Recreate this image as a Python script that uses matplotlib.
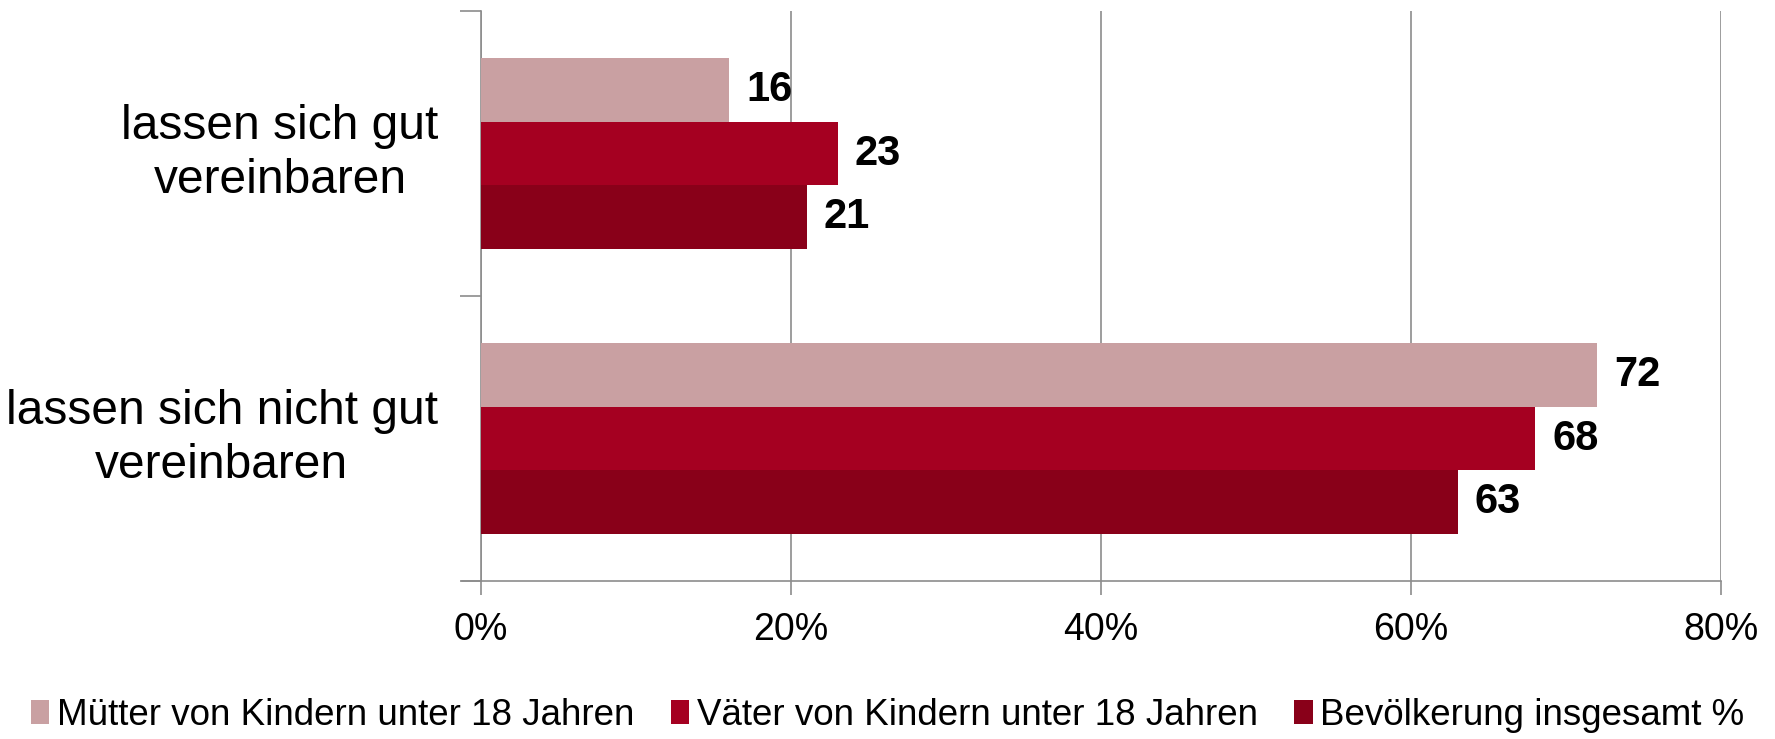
import numpy as np
import matplotlib.pyplot as plt
import matplotlib.transforms as mtransforms
from matplotlib.patches import Patch

plt.rcParams['font.family'] = ['Liberation Sans', 'DejaVu Sans']

categories = ["lassen sich gut\nvereinbaren", "lassen sich nicht gut\nvereinbaren"]
series = ["Mütter von Kindern unter 18 Jahren",
          "Väter von Kindern unter 18 Jahren",
          "Bevölkerung insgesamt %"]
muetter = [16, 72]
vaeter = [23, 68]
bevoelkerung = [21, 63]
colors = ['#C9A0A2', '#A50021', '#890019']

fig = plt.figure(figsize=(17.75, 7.39), dpi=100)
ax = fig.add_axes([0.271, 0.2138, 0.6986, 0.7713])

y = np.arange(len(categories))
h = 0.224
for i, (vals, c) in enumerate(zip([muetter, vaeter, bevoelkerung], colors)):
    pos = y - h + i * h
    ax.barh(pos, vals, height=h, color=c, zorder=3)
    for p, v in zip(pos, vals):
        ax.text(v + 1.1, p, str(v), va='center', ha='left', fontsize=30,
                fontweight='bold', zorder=4)

ax.set_xlim(0, 80)
ax.set_ylim(1.5, -0.5)
ax.set_xticks([0, 20, 40, 60, 80])
ax.set_xticklabels(['0%', '20%', '40%', '60%', '80%'], fontsize=27)
ax.xaxis.grid(True, color='#8c8c8c', linewidth=1.2, zorder=0)

ax.set_yticks([-0.5, 0.5, 1.5])
ax.set_yticklabels([])
ax.tick_params(axis='y', which='major', length=15, color='#8c8c8c', width=1.2)
ax.tick_params(axis='x', length=10, color='#8c8c8c', width=1.2, pad=12)

# category labels, centred text blocks left of the axis
trans = mtransforms.blended_transform_factory(ax.transAxes, ax.transData)
label_x = [-0.162, -0.209]
for yy, lab, lx in zip(y, categories, label_x):
    ax.text(lx, yy, lab, transform=trans, ha='center', va='center',
            fontsize=34.5, linespacing=1.28)

for s in ['top', 'right']:
    ax.spines[s].set_visible(False)
for s in ['left', 'bottom']:
    ax.spines[s].set_color('#8c8c8c')
    ax.spines[s].set_linewidth(1.2)
ax.spines['bottom'].set_bounds(-1.2, 80)
ax.spines['bottom'].set_clip_on(False)

handles = [Patch(facecolor=c, label=l) for c, l in zip(colors, series)]
fig.legend(handles=handles, loc='center', bbox_to_anchor=(0.5, 0.032), ncol=3,
           frameon=False, fontsize=26.5, handlelength=0.5, handleheight=0.6,
           handletextpad=0.2, columnspacing=1.0)

fig.savefig('out.png', dpi=100)
